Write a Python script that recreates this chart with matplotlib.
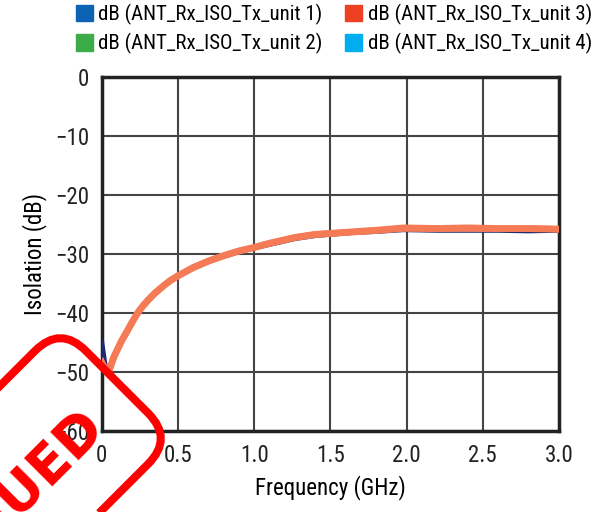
#Isolation vs frequency, four units
import numpy as np
import matplotlib.pyplot as plt
from matplotlib.patches import FancyBboxPatch, Patch
from matplotlib.transforms import Affine2D, IdentityTransform

plt.rcParams['font.family'] = ['Roboto Condensed', 'DejaVu Sans']

#Frequency points in GHz
freq = [0.0, 0.02, 0.04, 0.06, 0.08, 0.1, 0.13, 0.17, 0.2, 0.24, 0.27, 0.3, 0.35, 0.4, 0.45, 0.5, 0.6, 0.7,
        0.8, 0.9, 1.0, 1.1, 1.27, 1.4, 1.63, 1.8, 1.98, 2.2, 2.4, 2.6, 2.8, 3.0]
#Isolation in dB for each unit
unit1 = [-45.0, -48.6, -50.4, -49.0, -47.5, -46.4, -44.8, -43.0, -41.6, -39.9, -38.9, -38.0, -36.7, -35.6, -34.6, -33.8, -32.4, -31.3,
         -30.4, -29.6, -29.0, -28.4, -27.4, -26.9, -26.4, -26.2, -25.9, -26.0, -26.0, -26.0, -26.1, -26.0]
unit2 = [-48.0, -49.5, -50.5, -49.0, -47.5, -46.4, -44.8, -42.9, -41.5, -39.8, -38.8, -37.9, -36.6, -35.5, -34.5, -33.7, -32.3, -31.2,
         -30.3, -29.5, -28.9, -28.3, -27.3, -26.8, -26.4, -26.1, -25.7, -25.8, -25.8, -25.8, -25.8, -25.9]
unit3 = [-48.5, -49.4, -50.2, -48.8, -47.4, -46.3, -44.7, -42.9, -41.5, -39.8, -38.8, -37.9, -36.6, -35.5, -34.5, -33.7, -32.3, -31.2,
         -30.3, -29.5, -28.9, -28.2, -27.2, -26.7, -26.3, -26.0, -25.6, -25.7, -25.6, -25.7, -25.7, -25.8]
unit4 = [-48.3, -49.4, -50.3, -48.9, -47.4, -46.3, -44.7, -42.9, -41.5, -39.8, -38.8, -37.9, -36.6, -35.5, -34.5, -33.7, -32.3, -31.2,
         -30.3, -29.5, -28.9, -28.2, -27.2, -26.7, -26.3, -26.0, -25.7, -25.7, -25.7, -25.7, -25.7, -25.8]
labels = ['dB (ANT_Rx_ISO_Tx_unit 1)', 'dB (ANT_Rx_ISO_Tx_unit 2)',
          'dB (ANT_Rx_ISO_Tx_unit 3)', 'dB (ANT_Rx_ISO_Tx_unit 4)']
xticks = [0, 0.5, 1.0, 1.5, 2.0, 2.5, 3.0]
xticklabels = ['0', '0.5', '1.0', '1.5', '2.0', '2.5', '3.0']
yticks = [0, -10, -20, -30, -40, -50, -60]

fig = plt.figure(figsize=(5.99, 5.12), dpi=100)
ax = fig.add_axes([0.170, 0.158, 0.763, 0.692])

#Traces, orange on top
ax.plot(freq, unit1, color='#1f2a6e', lw=3.5, zorder=3)
ax.plot(freq, unit2, color='#9a4fb8', lw=3.5, zorder=3)
ax.plot(freq, unit4, color='#f48a66', lw=4.5, zorder=3)
ax.plot(freq, unit3, color='#f47b55', lw=5.0, zorder=4)

ax.set_xlim(0, 3.0)
ax.set_ylim(-60, 0)
ax.set_xticks(xticks)
ax.set_xticklabels(xticklabels)
ax.set_yticks(yticks)
ax.set_yticklabels(['0', '\u221210', '\u221220', '\u221230', '\u221240', '\u221250', '\u221260'])
ax.tick_params(length=0, labelsize=16.5, pad=9, colors='#222222')
ax.grid(True, color='#444444', lw=1.5)
for s in ax.spines.values():
    s.set_linewidth(2.5)
    s.set_color('#222222')
ax.set_xlabel('Frequency (GHz)', fontsize=16.5, labelpad=6)
ax.set_ylabel('Isolation (dB)', fontsize=16.5, labelpad=6)

#Legend squares use different colours than the traces
handles = [Patch(color=c) for c in ['#0d63b3', '#3cac48', '#ee4124', '#00aeef']]
fig.legend(handles, labels, ncol=2, loc='upper left', bbox_to_anchor=(0.095, 1.029),
           frameon=False, fontsize=15, handlelength=0.82, handleheight=0.82,
           handletextpad=0.25, columnspacing=1.1, labelspacing=0.4)

#Red stamp in the lower left corner
stamp_tr = Affine2D().rotate_deg(45).translate(117, 130)
box = FancyBboxPatch((-700, -80), 700, 160, boxstyle='round,pad=0,rounding_size=36',
                     fill=False, ec='#ff0000', lw=5.8, transform=stamp_tr, zorder=10)
fig.patches.append(box)
fig.text(105, 85, 'DISCONTINUED', transform=IdentityTransform(), rotation=45,
         rotation_mode='anchor', ha='right', va='baseline', color='#ff0000',
         fontsize=39, fontweight='bold', family='DejaVu Sans', zorder=10)

fig.savefig('out.png', dpi=100)
